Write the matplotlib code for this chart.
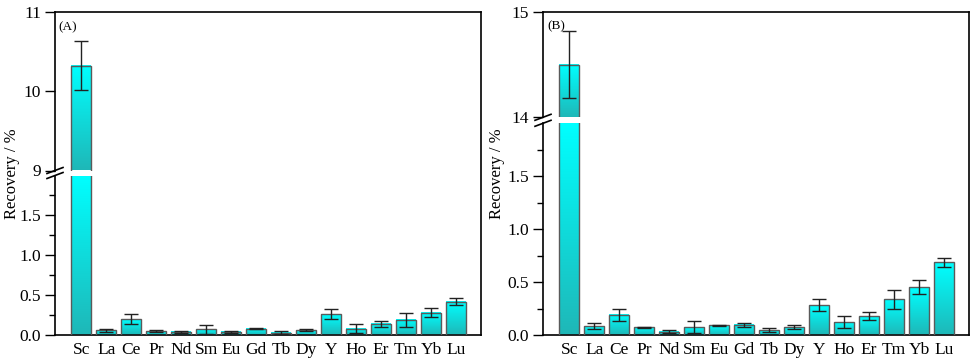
import numpy as np
import matplotlib
matplotlib.use("Agg")
import matplotlib.pyplot as plt
from matplotlib.lines import Line2D

plt.rcParams['font.family'] = ['Liberation Serif', 'DejaVu Serif']

elements = ['Sc', 'La', 'Ce', 'Pr', 'Nd', 'Sm', 'Eu', 'Gd', 'Tb', 'Dy',
            'Y', 'Ho', 'Er', 'Tm', 'Yb', 'Lu']

rec_a = [10.32, 0.06, 0.20, 0.05, 0.04, 0.07, 0.04, 0.08, 0.03, 0.06,
         0.26, 0.08, 0.14, 0.19, 0.28, 0.42]
err_a = [0.31, 0.02, 0.06, 0.01, 0.01, 0.06, 0.01, 0.01, 0.02, 0.01,
         0.065, 0.055, 0.04, 0.085, 0.06, 0.045]

rec_b = [14.50, 0.085, 0.19, 0.072, 0.031, 0.075, 0.09, 0.095, 0.047, 0.075,
         0.283, 0.122, 0.175, 0.336, 0.453, 0.689]
err_b = [0.32, 0.025, 0.057, 0.008, 0.016, 0.055, 0.007, 0.02, 0.02, 0.02,
         0.06, 0.053, 0.038, 0.09, 0.063, 0.042]

panel_a_upper = (9, 11)
panel_b_upper = (14, 15)
lower_range = (0, 2)

W, H = 974, 362
fig = plt.figure(figsize=(W / 100, H / 100), dpi=100)

TOP = np.array([0.0, 1.0, 1.0])
BOT = np.array([0.12, 0.72, 0.72])
grad = np.linspace(0, 1, 64)[:, None, None]
grad_img = BOT + (TOP - BOT) * grad  # row 0 = bottom (origin lower)


def draw_bars(ax, vals, errs, ylim):
    x = np.arange(len(vals))
    bars = ax.bar(x, vals, width=0.8, facecolor='none', edgecolor='#5a5a5a',
                  linewidth=1.0, zorder=3)
    for b in bars:
        x0, w, h = b.get_x(), b.get_width(), b.get_height()
        y0 = max(ylim[0], 0)
        y1 = min(h, ylim[1])
        if y1 <= y0:
            continue
        ax.imshow(grad_img, extent=[x0, x0 + w, y0, y1], origin='lower',
                  aspect='auto', zorder=2, interpolation='bilinear')
    ax.errorbar(x, vals, yerr=errs, fmt='none', ecolor='#222222',
                elinewidth=1.0, capsize=5, capthick=1.0, zorder=4)
    ax.set_xlim(-1.06, 16.0)
    ax.set_ylim(*ylim)


def px(x, y):
    return x / W, 1 - y / H


def make_panel(left_px, right_px, top_px, gap_top_px, gap_bot_px, bottom_px,
               vals, errs, upper, label, label_pos, ylabel_x):
    l, _ = px(left_px, 0)
    w = (right_px - left_px) / W
    _, ut = px(0, top_px)
    _, ub = px(0, gap_top_px)
    _, lt = px(0, gap_bot_px)
    _, lb = px(0, bottom_px)
    ax_u = fig.add_axes([l, ub, w, ut - ub])
    ax_l = fig.add_axes([l, lb, w, lt - lb])

    draw_bars(ax_u, vals, errs, upper)
    draw_bars(ax_l, vals, errs, lower_range)

    for ax in (ax_u, ax_l):
        ax.spines['right'].set_visible(False)
        ax.tick_params(axis='y', direction='out', length=7, width=1.0,
                       labelsize=12.5, pad=3)
        ax.tick_params(axis='y', which='minor', direction='out', length=4, width=1.0)
        for s in ax.spines.values():
            s.set_linewidth(1.2)
    ax_u.spines['bottom'].set_visible(False)
    ax_l.spines['top'].set_visible(False)
    ax_u.set_xticks([])
    ax_u.set_yticks(np.arange(upper[0], upper[1] + 0.5, 1))
    ax_u.set_yticklabels([f"{v:d}" for v in range(upper[0], upper[1] + 1)])

    ax_l.set_xticks(np.arange(len(elements)))
    ax_l.set_xticklabels(elements, fontsize=12.5)
    ax_l.tick_params(axis='x', length=0, pad=5)
    ax_l.set_yticks([0, 0.5, 1.0, 1.5])
    ax_l.set_yticklabels(['0.0', '0.5', '1.0', '1.5'])
    ax_l.set_yticks([0.25, 0.75, 1.25, 1.75], minor=True)

    # continuous right spine
    fig.add_artist(Line2D([l + w, l + w], [lb, ut], color='black', lw=1.2,
                          transform=fig.transFigure))
    # break marks on left spine
    dx, dy = 8 / W, 3 / H
    for yb in (ub, lt):
        fig.add_artist(Line2D([l - dx, l + dx], [yb - dy, yb + dy],
                              color='black', lw=1.2, transform=fig.transFigure))

    fx, fy = px(*label_pos)
    fig.text(fx, fy, label, fontsize=9.5, ha='center', va='center')
    yx, yy = px(ylabel_x, 173.5)
    fig.text(yx, yy, 'Recovery / %', rotation=90, fontsize=12,
             ha='center', va='center')


make_panel(55, 481, 12, 170.5, 175.5, 335, rec_a, err_a, panel_a_upper,
           '(A)', (68, 27), 12)
make_panel(543, 969, 12, 117.3, 123.3, 335, rec_b, err_b, panel_b_upper,
           '(B)', (556, 26), 497)

fig.savefig('out.png', dpi=100)
